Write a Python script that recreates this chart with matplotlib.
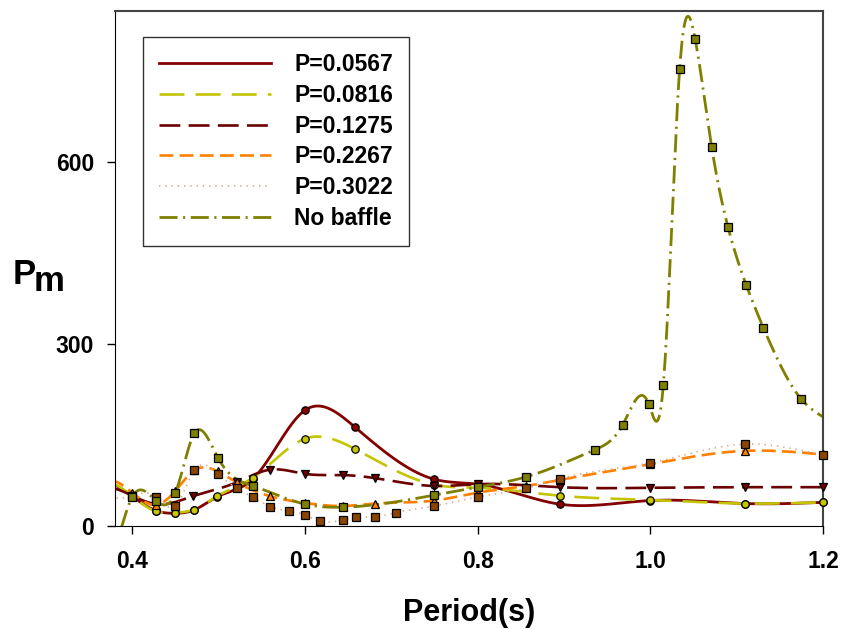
import numpy as np
import matplotlib
matplotlib.use("Agg")
import matplotlib.pyplot as plt

plt.rcParams['font.family'] = ['Liberation Sans', 'DejaVu Sans']
plt.rcParams['font.weight'] = 'bold'
plt.rcParams['lines.scale_dashes'] = False

# data (period in s, Pm)
x_0567 = [0.4, 0.428, 0.45, 0.471, 0.498, 0.54, 0.6, 0.658, 0.75, 0.8, 0.895, 1.0, 1.11, 1.2]
y_0567 = [49, 25, 21, 26, 48, 78, 191, 163, 77, 69, 36, 42, 37, 39]

x_0816 = [0.4, 0.428, 0.45, 0.471, 0.498, 0.54, 0.6, 0.658, 0.75, 0.8, 0.895, 1.0, 1.11, 1.2]
y_0816 = [49, 24, 22, 27, 49, 80, 144, 127, 68, 63, 50, 43, 37, 39]

x_1275 = [0.4, 0.428, 0.47, 0.521, 0.56, 0.6, 0.644, 0.681, 0.75, 0.8, 0.895, 1.0, 1.11, 1.2]
y_1275 = [50, 36, 49, 72, 93, 86, 84, 79, 66, 69, 64, 63, 64, 64]

x_2267 = [0.4, 0.428, 0.45, 0.472, 0.499, 0.521, 0.56, 0.6, 0.644, 0.681, 0.75, 0.8, 0.856, 0.895, 1.0, 1.11, 1.2]
y_2267 = [55, 35, 58, 92, 90, 72, 49, 38, 33, 37, 42, 55, 66, 76, 102, 124, 118]

x_3022 = [0.4, 0.428, 0.45, 0.472, 0.499, 0.521, 0.54, 0.56, 0.582, 0.6, 0.617, 0.644, 0.659,
          0.681, 0.705, 0.75, 0.8, 0.856, 0.895, 1.0, 1.11, 1.2]
y_3022 = [50, 48, 33, 92, 86, 62, 47, 32, 24, 18, 8, 10, 14, 15, 22, 33, 48, 62, 78, 104, 135, 117]

# first and last "No baffle" values are where the curve meets the frame (no marker there)
x_nob = [0.388, 0.4, 0.428, 0.45, 0.472, 0.499, 0.54, 0.6, 0.644, 0.75, 0.8, 0.856, 0.936, 0.968,
         0.998, 1.015, 1.034, 1.052, 1.071, 1.09, 1.111, 1.131, 1.175, 1.2]
y_nob = [0, 48, 41, 55, 153, 113, 66, 36, 31, 51, 64, 81, 126, 167, 202, 232, 755, 803, 626, 493,
         398, 327, 209, 180]

labels = ['P=0.0567', 'P=0.0816', 'P=0.1275', 'P=0.2267', 'P=0.3022', 'No baffle']


def spline(x, y, xs):
    # natural cubic spline, end pieces extended past the data
    x = np.asarray(x, float)
    y = np.asarray(y, float)
    n = len(x)
    h = np.diff(x)
    A = np.zeros((n, n))
    b = np.zeros(n)
    A[0, 0] = 1
    A[-1, -1] = 1
    for i in range(1, n - 1):
        A[i, i - 1] = h[i - 1]
        A[i, i] = 2 * (h[i - 1] + h[i])
        A[i, i + 1] = h[i]
        b[i] = 3 * ((y[i + 1] - y[i]) / h[i] - (y[i] - y[i - 1]) / h[i - 1])
    c = np.linalg.solve(A, b)
    bc = (y[1:] - y[:-1]) / h - h * (2 * c[:-1] + c[1:]) / 3
    d = (c[1:] - c[:-1]) / (3 * h)
    idx = np.clip(np.searchsorted(x, xs) - 1, 0, n - 2)
    dx = xs - x[idx]
    return y[idx] + bc[idx] * dx + c[idx] * dx ** 2 + d[idx] * dx ** 3


series = [
    (x_0567, y_0567, '#840000', (None, None), 2.0, 'o', '#8a0000'),
    (x_0816, y_0816, '#c4c400', (18, 8), 1.9, 'o', '#c8c800'),
    (x_1275, y_1275, '#6a0000', (15, 6), 1.9, 'v', '#700000'),
    (x_2267, y_2267, '#ff8000', (10, 4.5), 1.9, '^', '#ff8000'),
    (x_3022, y_3022, '#d9a88a', (1, 3.5), 1.2, 's', '#8b4500'),
    (x_nob, y_nob, '#808000', (13, 4, 1.5, 4), 2.0, 's', '#808000'),
]

fig = plt.figure(figsize=(8.43, 6.29), dpi=100)
ax = fig.add_axes([0.1364, 0.1638, 0.8399, 0.8187])

for (xd, yd, col, dash, lw, mk, mfc), lab in zip(series, labels):
    xs = np.linspace(0.375, 1.2, 900)
    ys = spline(xd, yd, xs)
    if dash[0] is None:
        ax.plot(xs, ys, color=col, lw=lw, label=lab, zorder=2)
    else:
        ax.plot(xs, ys, color=col, lw=lw, dashes=dash, label=lab, zorder=2)
    a, b = (1, len(xd) - 1) if lab == 'No baffle' else (0, len(xd))
    ax.plot(xd[a:b], yd[a:b], linestyle='none', marker=mk, markersize=5.3, mfc=mfc,
            mec='black', mew=0.9, zorder=3, clip_on=False)

ax.set_xlim(0.38, 1.2)
ax.set_ylim(0, 850)
ax.set_xticks([0.4, 0.6, 0.8, 1.0, 1.2])
ax.set_xticklabels(['0.4', '0.6', '0.8', '1.0', '1.2'])
ax.set_yticks([0, 300, 600])
ax.tick_params(direction='out', length=6, width=1, labelsize=16.5, pad=9)
ax.tick_params(axis='x', pad=11)
for s in ['top', 'right']:
    ax.spines[s].set_color('#444444')
    ax.spines[s].set_linewidth(1.5)

ax.set_xlabel('Period(s)', fontsize=22, fontweight='bold', labelpad=18)
fig.text(0.015, 0.548, 'P', fontsize=25, fontweight='bold', va='baseline')
fig.text(0.040, 0.537, 'm', fontsize=25, fontweight='bold', va='baseline')

leg = ax.legend(loc='upper left', bbox_to_anchor=(0.0395, 0.9495), borderaxespad=0,
                fontsize=16.5, handlelength=4.9, handletextpad=1.0, borderpad=0.7,
                labelspacing=0.34, fancybox=False, frameon=True)
leg.get_frame().set_edgecolor('black')
leg.get_frame().set_linewidth(1.0)

fig.savefig('out.png', dpi=100)
